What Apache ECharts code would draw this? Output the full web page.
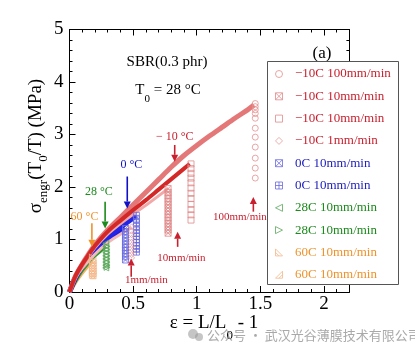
<!DOCTYPE html>
<html><head><meta charset="utf-8">
<script src="https://cdn.jsdelivr.net/npm/echarts@6/dist/echarts.min.js"></script>
<style>html,body{margin:0;padding:0;background:#fff}#c{width:415px;height:352px}</style>
</head><body><div id="c"></div>
<script>
// ---------- data ----------
const legendNames = ['−10C 100mm/min','−10C 10mm/min','−10C 10mm/min ','−10C 1mm/min','0C 10mm/min','0C 10mm/min ','28C 10mm/min','28C 10mm/min ','60C 10mm/min','60C 10mm/min '];
const m10_100_curve = [[0,0],[0.02,0.14],[0.05,0.32],[0.1,0.53],[0.15,0.72],[0.2,0.9],[0.3,1.18],[0.4,1.42],[0.5,1.66],[0.6,1.9],[0.7,2.14],[0.8,2.38],[0.9,2.6],[1.0,2.79],[1.1,2.97],[1.2,3.14],[1.3,3.31],[1.4,3.47],[1.45,3.56]];
const m10_100_relax = [[1.46,3.59],[1.46,3.53],[1.46,3.47],[1.46,3.40],[1.46,3.31],[1.46,3.12],[1.46,2.95],[1.46,2.76],[1.46,2.55],[1.46,2.36],[1.46,2.17]];
const m10_10a_curve = [[0,0],[0.05,0.3],[0.1,0.5],[0.2,0.84],[0.3,1.1],[0.4,1.3],[0.5,1.48],[0.6,1.65],[0.7,1.83],[0.774,1.97]];
const m10_10a_relax = [[0.775,1.97],[0.775,1.90],[0.775,1.84],[0.775,1.78],[0.775,1.72],[0.775,1.66],[0.775,1.60],[0.775,1.54],[0.775,1.48],[0.775,1.42],[0.775,1.36],[0.775,1.30],[0.775,1.24],[0.775,1.18],[0.775,1.12]];
const m10_10b_curve = [[0,0],[0.02,0.14],[0.05,0.32],[0.1,0.53],[0.15,0.71],[0.2,0.88],[0.3,1.15],[0.4,1.36],[0.5,1.56],[0.6,1.75],[0.7,1.95],[0.8,2.15],[0.9,2.35],[0.945,2.44]];
const m10_10b_relax = [[0.955,2.44],[0.955,2.35],[0.955,2.26],[0.955,2.17],[0.955,2.08],[0.955,1.98],[0.955,1.88],[0.955,1.78],[0.955,1.67],[0.955,1.57],[0.955,1.47],[0.955,1.37]];
const m10_1_curve = [[0,0],[0.05,0.27],[0.1,0.45],[0.2,0.72],[0.3,0.94],[0.4,1.1],[0.488,1.24]];
const m10_1_relax = [[0.488,1.24],[0.488,1.16],[0.488,1.09],[0.488,1.02],[0.488,0.95],[0.488,0.89],[0.488,0.83],[0.488,0.77],[0.488,0.71],[0.488,0.65]];
const c0a_curve = [[0,0],[0.05,0.28],[0.1,0.48],[0.2,0.76],[0.3,0.98],[0.4,1.14],[0.44,1.21]];
const c0a_relax = [[0.44,1.21],[0.44,1.15],[0.44,1.09],[0.44,1.03],[0.44,0.97],[0.44,0.91],[0.44,0.85],[0.44,0.79],[0.44,0.73],[0.44,0.67],[0.44,0.61]];
const c0b_curve = [[0,0],[0.05,0.3],[0.1,0.5],[0.2,0.8],[0.3,1.03],[0.4,1.23],[0.5,1.41],[0.524,1.46]];
const c0b_relax = [[0.526,1.46],[0.526,1.39],[0.526,1.32],[0.526,1.25],[0.526,1.18],[0.526,1.12],[0.526,1.06],[0.526,1.0],[0.526,0.94],[0.526,0.88],[0.526,0.82],[0.526,0.76]];
const c28a_curve = [[0,0],[0.05,0.26],[0.1,0.46],[0.15,0.61],[0.2,0.74],[0.25,0.85],[0.29,0.93]];
const c28a_relax = [[0.285,0.93],[0.285,0.87],[0.285,0.81],[0.285,0.75],[0.285,0.69],[0.285,0.63],[0.285,0.57],[0.285,0.51],[0.285,0.46]];
const c28b_curve = [[0,0],[0.05,0.23],[0.1,0.42],[0.15,0.57],[0.2,0.7],[0.25,0.8],[0.285,0.87]];
const c28b_relax = [[0.295,0.87],[0.295,0.81],[0.295,0.75],[0.295,0.69],[0.295,0.63],[0.295,0.57],[0.295,0.51],[0.295,0.47]];
const c60a_curve = [[0,0],[0.02,0.1],[0.05,0.24],[0.1,0.42],[0.15,0.57],[0.18,0.67]];
const c60a_relax = [[0.18,0.67],[0.18,0.61],[0.18,0.56],[0.18,0.51],[0.18,0.46],[0.18,0.41],[0.18,0.36],[0.18,0.32]];
const c60b_curve = [[0,0],[0.02,0.08],[0.05,0.2],[0.1,0.37],[0.15,0.52],[0.175,0.6]];
const c60b_relax = [[0.185,0.6],[0.185,0.55],[0.185,0.5],[0.185,0.45],[0.185,0.4],[0.185,0.35],[0.185,0.31]];

// annotations (data coordinates)
const arrowX    = [0.827, 0.454, 0.28, 0.176, 0.485, 0.85, 1.445];
const arrowFrom = [2.80, 2.20, 1.72, 1.31, 0.29, 0.86, 1.53];
const arrowTo   = [2.48, 1.59, 1.21, 0.86, 0.64, 1.15, 1.81];
const noteText  = ['− 10 °C','0 °C','28 °C','60 °C','1mm/min','10mm/min','100mm/min'];
const noteX     = [0.827, 0.486, 0.231, 0.118, 0.604, 0.88, 1.339];
const noteY     = [2.96, 2.42, 1.91, 1.43, 0.23, 0.64, 1.43];

// ---------- styling ----------
const SERIF = "'Liberation Serif','DejaVu Serif',serif";
const RED='#c8202e', BLUE='#2020c0', GREEN='#1c8a1c', ORANGE='#f0922c';
const noteColor = [RED, '#1010c8', GREEN, ORANGE, RED, RED, RED];
const noteSize = [12,12,12,12,11,11,11];
const P = {
  circ:'path://M5,0A5,5 0 1,1 5,10A5,5 0 1,1 5,0Z',
  sq:'path://M0,0L10,0L10,10L0,10Z',
  dia:'path://M5,0L10,5L5,10L0,5Z',
  sqx:'path://M0,0L10,0L10,10L0,10ZM0,0L10,10M10,0L0,10',
  sqp:'path://M0,0L10,0L10,10L0,10ZM5,0L5,10M0,5L10,5',
  tl:'path://M10,0L10,10L0,5Z',
  tr:'path://M0,0L0,10L10,5Z',
  o1:'path://M0,0L0,10L10,10ZM0,5L5,10',
  o2:'path://M10,0L10,10L0,10ZM10,5L5,10'
};
const groups = [
  {curve:c60a_curve, relax:c60a_relax, lc:'#f5a04a', lw:5, sym:P.o1, sc:'#f5b88a', tc:ORANGE, leg:8},
  {curve:c60b_curve, relax:c60b_relax, lc:'#f7ae66', lw:4, sym:P.o2, sc:'#f5b88a', tc:ORANGE, leg:9},
  {curve:c28a_curve, relax:c28a_relax, lc:'#1f8f1f', lw:4, sym:P.tl, sc:'#5aa85a', tc:GREEN, leg:6},
  {curve:c28b_curve, relax:c28b_relax, lc:'#2a9a2a', lw:4, sym:P.tr, sc:'#5aa85a', tc:GREEN, leg:7},
  {curve:c0a_curve, relax:c0a_relax, lc:'#1a1ae0', lw:5, sym:P.sqx, sc:'#6a6ae0', tc:BLUE, leg:4},
  {curve:c0b_curve, relax:c0b_relax, lc:'#2424e6', lw:5, sym:P.sqp, sc:'#6a6ae0', tc:BLUE, leg:5},
  {curve:m10_1_curve, relax:m10_1_relax, lc:'#f3b8b8', lw:3, sym:P.dia, sc:'#e89a9a', tc:RED, leg:3},
  {curve:m10_10a_curve, relax:m10_10a_relax, lc:'#f2a8a8', lw:3, sym:P.sqx, sc:'#e08a8a', tc:RED, leg:1},
  {curve:m10_100_curve, relax:m10_100_relax, lc:'#e47878', lw:5, sym:P.circ, sc:'#e59090', tc:RED, leg:0},
  {curve:m10_10b_curve, relax:m10_10b_relax, lc:'#d42828', lw:4, sym:P.sq, sc:'#e08a8a', tc:RED, leg:2}
];

const series = [];
groups.forEach((g, i) => {
  series.push({type:'line', name:'curve'+i, data:g.curve, showSymbol:false, smooth:0.3,
    lineStyle:{color:g.lc, width:g.lw}, itemStyle:{color:g.lc}, z:2, silent:true});
});
groups.forEach((g, i) => {
  series.push({type:'scatter', name:legendNames[g.leg], data:g.relax, symbol:g.sym, symbolSize:6,
    itemStyle:{color:'rgba(255,255,255,0)', borderColor:g.sc, borderWidth:1}, z:3});
});
const legendData = legendNames.map(n => {
  const g = groups.find(gg => legendNames[gg.leg] === n);
  return {name:n, icon:g.sym, textStyle:{color:g.tc},
    itemStyle:{color:'rgba(255,255,255,0)', borderColor:g.sc, borderWidth:1}};
});

const ax = (grid, pos, interval, max, labels, margin, len, line, minor) => ({
  type:'value', gridIndex:grid, position:pos, min:0, max:max, interval:interval,
  axisLine:{show:line, onZero:false, lineStyle:{color:'#000', width:1}},
  axisTick:{show:true, inside:true, length:len, lineStyle:{color:'#000', width:1}},
  minorTick:{show:minor, splitNumber:5, length:3, lineStyle:{color:'#000', width:1}},
  axisLabel:{show:labels, fontFamily:SERIF, fontSize:19, color:'#000', margin:margin, showMaxLabel:false},
  splitLine:{show:false}
});
const gridBox = {left:69.5, right:65.6, top:29.5, bottom:60, containLabel:false};

const chart = echarts.init(document.getElementById('c'), null, {renderer:'canvas'});
chart.setOption({
  animation:false,
  backgroundColor:'#fff',
  grid:[gridBox, Object.assign({}, gridBox)],
  xAxis:[ax(0,'bottom',0.5,2.2,true,3,6,true,false), ax(0,'top',0.5,2.2,false,3,6,true,false),
         ax(1,'bottom',0.1,2.2,false,3,3,false,false), ax(1,'top',0.1,2.2,false,3,3,false,false)],
  yAxis:[Object.assign(ax(0,'left',1,5,true,6,6,true,true), {axisLabel:{show:true, fontFamily:SERIF, fontSize:19, color:'#000', margin:6}}),
         ax(0,'right',1,5,false,6,6,true,true),
         Object.assign(ax(1,'left',1,5,false,6,6,false,false), {show:false})],
  legend:{orient:'vertical', left:275, top:66, padding:0, itemGap:6.3, itemWidth:22, itemHeight:7,
    textStyle:{fontFamily:SERIF, fontSize:13, lineHeight:16}, data:legendData, selectedMode:false, z:10},
  series:series
});

// ---------- graphics ----------
const gr = [];
const px = (x, y) => chart.convertToPixel({xAxisIndex:0, yAxisIndex:0}, [x, y]);
arrowX.forEach((x, i) => {
  const a = px(x, arrowFrom[i]), b = px(x, arrowTo[i]);
  const dir = b[1] > a[1] ? 1 : -1;
  const baseY = b[1] - dir * 7;
  gr.push({type:'line', z:5, shape:{x1:a[0], y1:a[1], x2:b[0], y2:baseY}, style:{stroke:noteColor[i], lineWidth:1.6}});
  gr.push({type:'polygon', z:5, shape:{points:[[b[0], b[1]], [b[0]-3.5, baseY], [b[0]+3.5, baseY]]}, style:{fill:noteColor[i]}});
});
noteText.forEach((t, i) => {
  const p = px(noteX[i], noteY[i]);
  gr.push({type:'text', z:5, x:p[0], y:p[1], style:{text:t, fill:noteColor[i], font:noteSize[i]+'px '+SERIF, textAlign:'center', textVerticalAlign:'middle'}});
});
// titles
gr.push({type:'text', z:5, x:167, y:62, style:{text:'SBR(0.3 phr)', fill:'#000', font:'15px '+SERIF, textAlign:'center', textVerticalAlign:'middle'}});
gr.push({type:'text', z:5, x:168, y:90, style:{text:'{a|T}{s|0}{a| = 28 °C}', textAlign:'center', textVerticalAlign:'middle',
  rich:{a:{fontFamily:SERIF, fontSize:15, lineHeight:30, verticalAlign:'middle', fill:'#000', color:'#000'},
        s:{fontFamily:SERIF, fontSize:11, lineHeight:11, verticalAlign:'bottom', fill:'#000', color:'#000'}}}});
gr.push({type:'text', z:5, x:322, y:54, style:{text:'(a)', fill:'#000', font:'17px '+SERIF, textAlign:'center', textVerticalAlign:'middle'}});
// axis titles
gr.push({type:'text', z:5, x:36, y:146, rotation:Math.PI/2, style:{text:'{a|σ}{s|engr}{a|(T}{s|0}{a|/T) (MPa)}', textAlign:'center', textVerticalAlign:'middle',
  rich:{a:{fontFamily:SERIF, fontSize:19, lineHeight:28, verticalAlign:'middle', fill:'#000', color:'#000'},
        s:{fontFamily:SERIF, fontSize:13, lineHeight:13, verticalAlign:'bottom', fill:'#000', color:'#000'}}}});
gr.push({type:'text', z:5, x:214, y:323, style:{text:'{a|ε = L/L}{s|0}{a| - 1}', textAlign:'center', textVerticalAlign:'middle',
  rich:{a:{fontFamily:SERIF, fontSize:19, lineHeight:38, verticalAlign:'middle', fill:'#000', color:'#000'},
        s:{fontFamily:SERIF, fontSize:13, lineHeight:13, verticalAlign:'bottom', fill:'#000', color:'#000'}}}});
// legend box
gr.push({type:'rect', z:9, shape:{x:267.5, y:61.5, width:131, height:223}, style:{fill:'#fff', stroke:'#555', lineWidth:1}});
// watermark
gr.push({type:'circle', z:6, shape:{cx:193, cy:334, r:5}, style:{fill:'rgba(150,150,150,0.55)'}});
gr.push({type:'circle', z:6, shape:{cx:199, cy:337, r:4}, style:{fill:'rgba(150,150,150,0.55)'}});
gr.push({type:'text', z:6, x:207, y:335, style:{text:'公众号 · 武汉光谷薄膜技术有限公司', fill:'rgba(140,140,140,0.75)', font:"13px 'Noto Sans CJK SC',sans-serif", textAlign:'left', textVerticalAlign:'middle'}});
chart.setOption({graphic:gr});
</script></body></html>
